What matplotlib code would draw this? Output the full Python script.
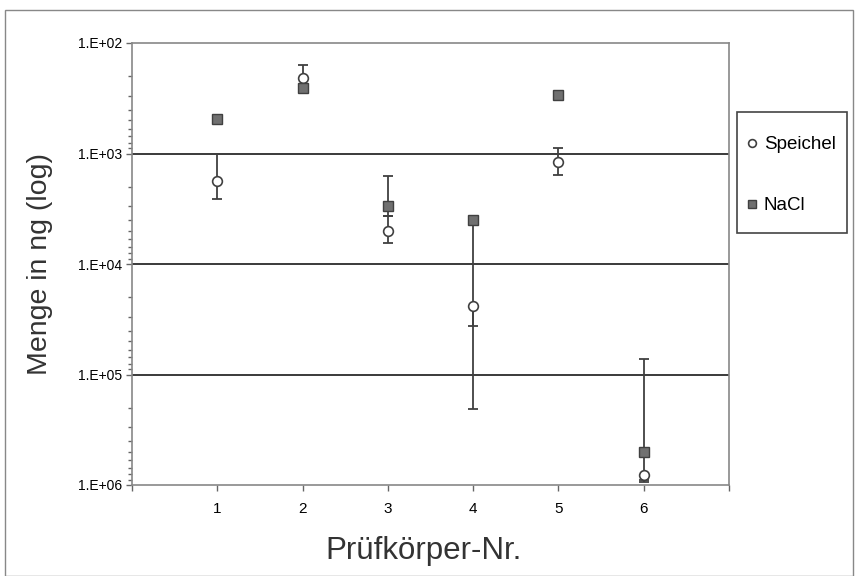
import matplotlib
matplotlib.use("Agg")
import matplotlib.pyplot as plt
from matplotlib.patches import Rectangle
from matplotlib.ticker import FixedLocator, LogLocator, NullFormatter

probes = [1, 2, 3, 4, 5, 6]

speichel = [1780, 206, 5040, 24100, 1190, 809000]
speichel_lo = [1020, 159, 3660, 24100, 883, 809000]
speichel_hi = [2590, 253, 6410, 36600, 1570, 910000]

nacl = [490, 258, 2990, 4030, 296, 507000]
nacl_lo = [490, 258, 1600, 4030, 296, 72300]
nacl_hi = [490, 258, 3700, 207000, 296, 940000]

ytick_vals = [1e2, 1e3, 1e4, 1e5, 1e6]
ytick_labels = ["1.E+02", "1.E+03", "1.E+04", "1.E+05", "1.E+06"]

plt.rcParams['font.family'] = ['Liberation Sans', 'DejaVu Sans']
narrow = ['Liberation Sans Narrow', 'Liberation Sans', 'DejaVu Sans']

fig = plt.figure(figsize=(8.55, 5.76), dpi=100)
ax = fig.add_axes([132/855, 1 - 485/576, (729 - 132)/855, (485 - 43)/576])

# thin border round the whole picture
fig.patches.append(Rectangle((5/855, 0), 848/855, 1 - 10/576, transform=fig.transFigure,
                             fill=False, edgecolor='#888888', linewidth=1.0))

ax.set_yscale('log')
ax.set_ylim(1e6, 1e2)
ax.set_xlim(0, 7)

# horizontal gridlines at the inner decades
for v in [1e3, 1e4, 1e5]:
    ax.axhline(v, color='#3a3a3a', linewidth=1.4, zorder=1)

# error bars first, markers on top
sp_err = [[s - lo for s, lo in zip(speichel, speichel_lo)],
          [hi - s for s, hi in zip(speichel, speichel_hi)]]
na_err = [[n - lo for n, lo in zip(nacl, nacl_lo)],
          [hi - n for n, hi in zip(nacl, nacl_hi)]]
ax.errorbar(probes, speichel, yerr=sp_err, fmt='none', ecolor='#404040',
            elinewidth=1.3, capsize=3.5, capthick=1.3, zorder=2)
ax.errorbar(probes, nacl, yerr=na_err, fmt='none', ecolor='#404040',
            elinewidth=1.3, capsize=3.5, capthick=1.3, zorder=2)

ax.plot(probes, speichel, linestyle='none', marker='o', markersize=7,
        markerfacecolor='white', markeredgecolor='#404040', markeredgewidth=1.2,
        label='Speichel', zorder=3)
ax.plot(probes, nacl, linestyle='none', marker='s', markersize=7,
        markerfacecolor='#707070', markeredgecolor='#404040', markeredgewidth=1.0,
        label='NaCl', zorder=4)

# axes and ticks
for sp in ax.spines.values():
    sp.set_color('#888888')
    sp.set_linewidth(1.2)

ax.xaxis.set_major_locator(FixedLocator(range(0, 8)))
ax.set_xticklabels([''] + [str(p) for p in probes] + [''], family=narrow, fontsize=11)
ax.yaxis.set_major_locator(FixedLocator(ytick_vals))
ax.set_yticklabels(ytick_labels, family=narrow, fontsize=10)
ax.yaxis.set_minor_locator(LogLocator(base=10, subs=range(2, 10)))
ax.yaxis.set_minor_formatter(NullFormatter())
ax.tick_params(axis='both', which='major', direction='out', length=4, width=1, color='#666666')
ax.tick_params(axis='y', which='minor', direction='out', length=3, width=1, color='#666666')
ax.tick_params(axis='x', pad=8)
ax.tick_params(axis='y', pad=3)

ax.set_ylabel('Menge in ng (log)', fontsize=20.5, color='#333333', labelpad=18)
ax.set_xlabel('Prüfkörper-Nr.', fontsize=22.5, color='#333333', labelpad=14)
ax.xaxis.set_label_coords(0.488, -0.115)

# legend entries without frame, box drawn separately (Excel-style padding)
leg = fig.legend(loc='upper left', bbox_to_anchor=(747/855, 1 - 136/576),
                 frameon=False, fontsize=13.5, labelspacing=2.35,
                 handlelength=0.5, handletextpad=0.4, borderpad=0, borderaxespad=0,
                 markerscale=0.8)
fig.patches.append(Rectangle((737/855, 1 - 233/576), 110/855, 121/576,
                             transform=fig.transFigure, fill=False,
                             edgecolor='#444444', linewidth=1.2))

fig.savefig('out.png', dpi=100)
